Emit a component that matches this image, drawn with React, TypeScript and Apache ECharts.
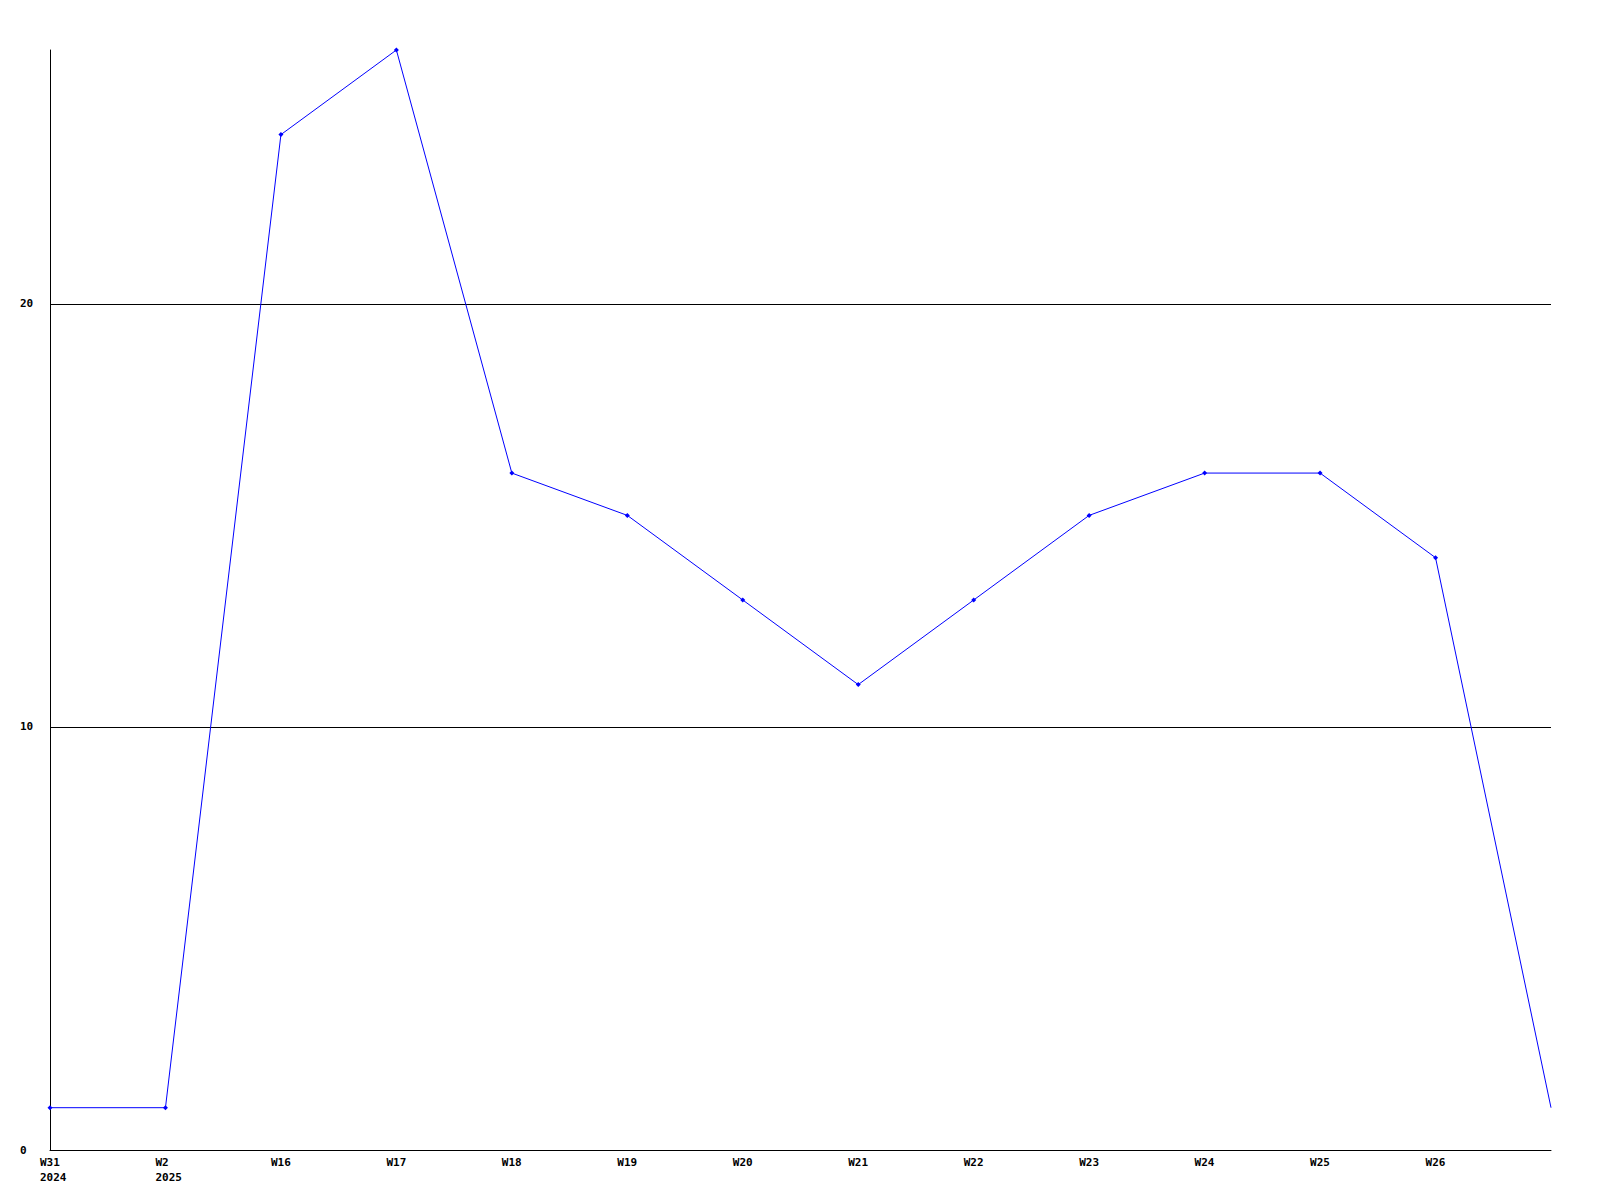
import React, { useEffect, useRef } from "react";
import * as echarts from "echarts";

const categories = ["W31\n2024", "W2\n2025", "W16", "W17", "W18", "W19", "W20", "W21", "W22", "W23", "W24", "W25", "W26", ""];
const values = [1, 1, 24, 26, 16, 15, 13, 11, 13, 15, 16, 16, 14, 1];
const yMin = 0;
const yMax = 26;
const yInterval = 10;

const FONT = "DejaVu Sans Mono";

export default function App() {
  const ref = useRef<HTMLDivElement>(null);
  useEffect(() => {
    if (!ref.current) return;
    const chart = echarts.init(ref.current, undefined, { renderer: "svg" });
    const data = values.map((v, i) =>
      i === values.length - 1 ? { value: v, symbol: "none" } : v
    );
    chart.setOption({
      animation: false,
      backgroundColor: "#ffffff",
      grid: { left: 50, right: 49, top: 50, bottom: 50, containLabel: false },
      xAxis: {
        type: "category",
        data: categories,
        boundaryGap: false,
        axisLine: { lineStyle: { color: "#000", width: 1 } },
        axisTick: { show: false },
        splitLine: { show: false },
        axisLabel: {
          interval: 0,
          align: "left",
          padding: [0, 0, 0, -10],
          margin: 5,
          fontFamily: FONT,
          fontWeight: "bold",
          fontSize: 11,
          lineHeight: 15,
          color: "#000",
        },
      },
      yAxis: {
        type: "value",
        min: yMin,
        max: yMax,
        interval: yInterval,
        axisLine: { show: true, lineStyle: { color: "#000", width: 1 } },
        axisTick: { show: false },
        splitLine: { show: true, showMinLine: false, showMaxLine: false, lineStyle: { color: "#000", width: 1 } },
        axisLabel: {
          showMaxLabel: false,
          align: "left",
          margin: 30,
          fontFamily: FONT,
          fontWeight: "bold",
          fontSize: 11,
          color: "#000",
        },
      },
      series: [
        {
          type: "line",
          data,
          lineStyle: { color: "#0000ff", width: 1 },
          itemStyle: { color: "#0000ff" },
          symbol: "diamond",
          symbolSize: 5,
          showSymbol: true,
        },
      ],
    });
    return () => chart.dispose();
  }, []);
  return <div ref={ref} style={{ position: "fixed", left: 0, top: 0, width: 1600, height: 1200 }} />;
}
